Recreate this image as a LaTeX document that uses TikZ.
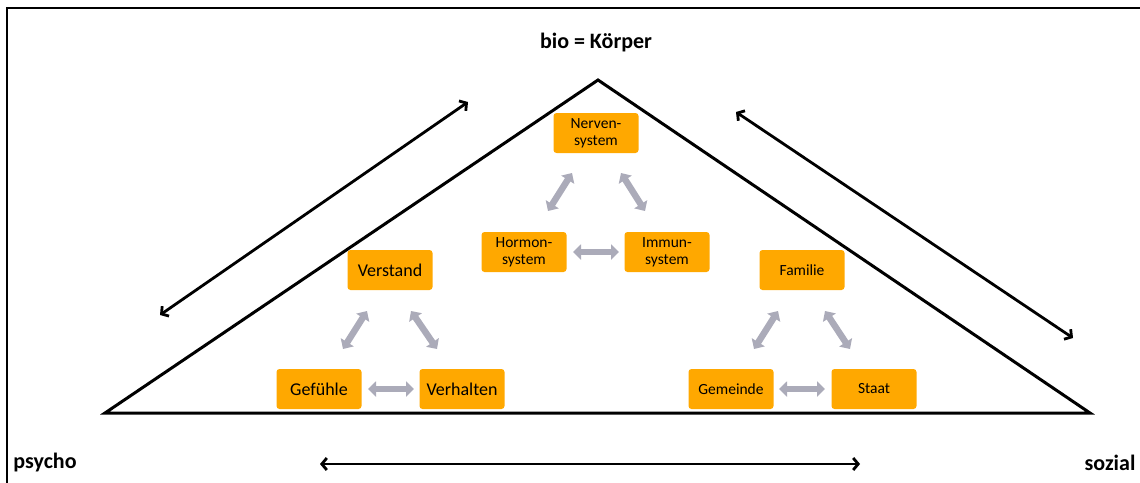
\documentclass[tikz,border=0pt]{standalone}
\usepackage{fontspec}
\setmainfont{Carlito}
\usetikzlibrary{arrows.meta}
\definecolor{boxorange}{HTML}{FFA800}
\definecolor{linkgrey}{HTML}{ABABB9}
\tikzset{
  every node/.style={inner sep=0pt, outer sep=0pt},
  factor/.style={fill=boxorange, rounded corners=3pt, minimum width=85pt,
    minimum height=40pt, align=center, text=black},
  small/.style={factor, font=\fontsize{15.5}{17}\selectfont},
  large/.style={factor, font=\fontsize{18}{20}\selectfont},
  pole/.style={font=\bfseries\fontsize{22}{24}\selectfont},
  link/.style={draw=linkgrey, line width=6.5pt,
    {Triangle[length=8pt,width=15pt]}-{Triangle[length=8pt,width=15pt]}},
  span/.style={draw=black, line width=2.8pt,
    {Straight Barb[length=5pt,width=12pt]}-{Straight Barb[length=5pt,width=12pt]}}
}
\begin{document}
\begin{tikzpicture}[x=1pt,y=-1pt]
\useasboundingbox (0,0) rectangle (1140,482);
% outer frame, cut at the right and bottom
\draw[line width=2pt] (1141,8) -- (7,8) -- (7,483);

% the triangle
\coordinate (apex) at (598,80);
\coordinate (lc) at (105,413);
\coordinate (rc) at (1090,413);
\draw[line width=3pt, line join=miter] (lc) -- (apex) -- (rc) -- cycle;

% pole labels
\node[pole] (bio) at (596,43) {bio = Körper};
\node[pole] (psycho) at (45,463) {psycho};
\node[pole] (sozial) at (1110,463) {sozial};

% biological factors
\node[small] (nerv) at (596,133) {Nerven-\\system};
\node[small] (horm) at (524,252) {Hormon-\\system};
\node[small] (immun) at (667,252) {Immun-\\system};

% psychological factors
\node[large] (verst) at (390,270) {Verstand};
\node[large] (gef) at (319,389) {Gefühle};
\node[large] (verh) at (462,389) {Verhalten};

% social factors
\node[small] (fam) at (802,270) {Familie};
\node[small] (gem) at (731,389) {Gemeinde};
\node[small] (staat) at (874,389) {Staat};

% interactions inside each group
\coordinate (n1) at (572,173); \coordinate (n2) at (548,211);
\coordinate (n3) at (621,173); \coordinate (n4) at (645,211);
\coordinate (n5) at (573,252); \coordinate (n6) at (619,252);
\draw[link] (n1) -- (n2);
\draw[link] (n3) -- (n4);
\draw[link] (n5) -- (n6);

\coordinate (p1) at (367,311); \coordinate (p2) at (343,349);
\coordinate (p3) at (411,311); \coordinate (p4) at (437,349);
\coordinate (p5) at (368,389); \coordinate (p6) at (414,389);
\draw[link] (p1) -- (p2);
\draw[link] (p3) -- (p4);
\draw[link] (p5) -- (p6);

\coordinate (s1) at (778,311); \coordinate (s2) at (754,349);
\coordinate (s3) at (825,311); \coordinate (s4) at (850,349);
\coordinate (s5) at (779,389); \coordinate (s6) at (825,389);
\draw[link] (s1) -- (s2);
\draw[link] (s3) -- (s4);
\draw[link] (s5) -- (s6);

% interactions between the poles
\coordinate (a1) at (160,315); \coordinate (a2) at (468,102);
\coordinate (b1) at (736,112); \coordinate (b2) at (1073,338);
\coordinate (c1) at (320,464); \coordinate (c2) at (860,464);
\draw[span] (a1) -- (a2);
\draw[span] (b1) -- (b2);
\draw[span] (c1) -- (c2);
\end{tikzpicture}
\end{document}
